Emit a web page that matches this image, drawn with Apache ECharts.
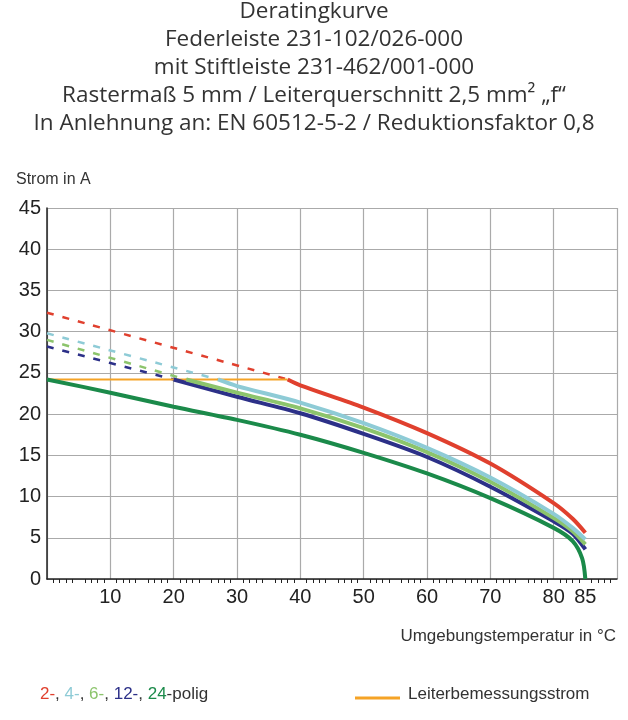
<!DOCTYPE html>
<html><head><meta charset="utf-8">
<script src="https://cdn.jsdelivr.net/npm/echarts@6/dist/echarts.min.js"></script>
<style>html,body{margin:0;background:#fff}#c{width:628px;height:720px}</style>
</head><body><div id="c"></div>
<script>
const titleLines = [
  'Deratingkurve',
  'Federleiste 231-102/026-000',
  'mit Stiftleiste 231-462/001-000',
  'Rastermaß 5 mm / Leiterquerschnitt 2,5 mm² „f“',
  'In Anlehnung an: EN 60512-5-2 / Reduktionsfaktor 0,8'
];
const xTickLabels = [10, 20, 30, 40, 50, 60, 70, 80, 85];

// [temperature, current]
const red2Dash   = [[0, 32.3], [38, 24.2]];
const red2       = [[38, 24.2], [40, 23.5], [50, 20.8], [60, 17.7], [70, 14], [80, 9.2], [83, 7.3], [85, 5.6]];
const cyan4Dash  = [[0, 29.8], [27, 24.2]];
const cyan4      = [[27, 24.2], [30, 23.4], [40, 21.4], [50, 18.9], [60, 15.9], [70, 12.3], [80, 7.9], [83, 6.2], [85, 4.8]];
const lime6Dash  = [[0, 29], [22, 24.2]];
const lime6      = [[22, 24.2], [30, 22.6], [40, 20.7], [50, 18.3], [60, 15.4], [70, 11.8], [80, 7.4], [83, 5.8], [85, 4.2]];
const navy12Dash = [[0, 28.2], [20, 24.2]];
const navy12     = [[20, 24.2], [30, 22.1], [40, 20.1], [50, 17.6], [60, 14.8], [70, 11.2], [80, 7.0], [83, 5.5], [85, 3.6]];
const green24    = [[0, 24.2], [10, 22.6], [20, 20.9], [30, 19.3], [40, 17.5], [50, 15.3], [60, 12.8], [70, 9.8], [80, 6.2], [83, 4.6], [84.5, 2.5], [85, 0]];
const ratedCurrent = [[0, 24.2], [38, 24.2]];

const C = { red: '#e0402e', cyan: '#8ecbd6', lime: '#8cc46c', navy: '#2c3088', green: '#1b8a4a', orange: '#f5a326' };

function line(data, color, dashed, width) {
  return {
    type: 'line', data, symbol: 'none', smooth: 0.3, animation: false,
    lineStyle: { color, width: width || 4, type: dashed ? [7, 9] : 'solid' }
  };
}

const chart = echarts.init(document.getElementById('c'));
chart.setOption({
  backgroundColor: '#fff',
  textStyle: { fontFamily: 'Open Sans' },
  grid: { left: 47, right: 11, top: 208, bottom: 141 },
  xAxis: [{
    type: 'value', min: 0, max: 90, interval: 5,
    axisLine: { lineStyle: { color: '#222', width: 1.5 } },
    axisTick: { show: false },
    minorTick: { show: true, splitNumber: 5, length: 4, lineStyle: { color: '#222' } },
    axisLabel: {
      fontSize: 20, color: '#222', fontFamily: 'Liberation Sans', margin: 8,
      formatter: v => xTickLabels.includes(v) ? String(v) : ''
    },
    splitLine: { show: false }
  }, {
    type: 'value', min: 0, max: 90, interval: 10, position: 'bottom',
    axisLine: { show: false }, axisTick: { show: false }, axisLabel: { show: false },
    splitLine: { show: true, lineStyle: { color: '#aaa', width: 1.2 } }
  }],
  yAxis: {
    type: 'value', min: 0, max: 45, interval: 5,
    axisLine: { show: true, lineStyle: { color: '#222', width: 1.5 } },
    axisTick: { show: false },
    axisLabel: { fontSize: 20, color: '#222', fontFamily: 'Liberation Sans', margin: 6 },
    splitLine: { lineStyle: { color: '#aaa', width: 1.2 } }
  },
  series: [
    line(red2Dash, C.red, true, 2.5),
    line(cyan4Dash, C.cyan, true, 2.5),
    line(lime6Dash, C.lime, true, 2.5),
    line(navy12Dash, C.navy, true, 2.5),
    line(ratedCurrent, C.orange, false, 2),
    line(green24, C.green, false),
    line(navy12, C.navy, false),
    line(lime6, C.lime, false),
    line(cyan4, C.cyan, false),
    line(red2, C.red, false)
  ],
  graphic: [
    ...titleLines.map((t, i) => ({
      type: 'text', left: 'center', top: 0 + i * 28,
      style: { text: t, fontSize: 22.5, fill: '#333', fontFamily: 'Open Sans' }
    })),
    { type: 'text', left: 16, top: 172, style: { text: 'Strom in A', fontSize: 16, fill: '#333' } },
    { type: 'text', right: 12, top: 628, style: { text: 'Umgebungstemperatur in °C', fontSize: 17, fill: '#333' } },
    { type: 'text', left: 40, top: 686, style: {
      text: '{r|2-}, {c|4-}, {l|6-}, {n|12-}, {g|24}-polig', fontSize: 17, fill: '#333',
      rich: { r: { fill: C.red, fontSize: 17 }, c: { fill: C.cyan, fontSize: 17 }, l: { fill: C.lime, fontSize: 17 },
              n: { fill: C.navy, fontSize: 17 }, g: { fill: C.green, fontSize: 17 } }
    } },
    { type: 'line', shape: { x1: 355, y1: 698, x2: 400, y2: 698 }, style: { stroke: C.orange, lineWidth: 3 } },
    { type: 'text', left: 408, top: 686, style: { text: 'Leiterbemessungsstrom', fontSize: 17, fill: '#333' } }
  ]
});
</script></body></html>
